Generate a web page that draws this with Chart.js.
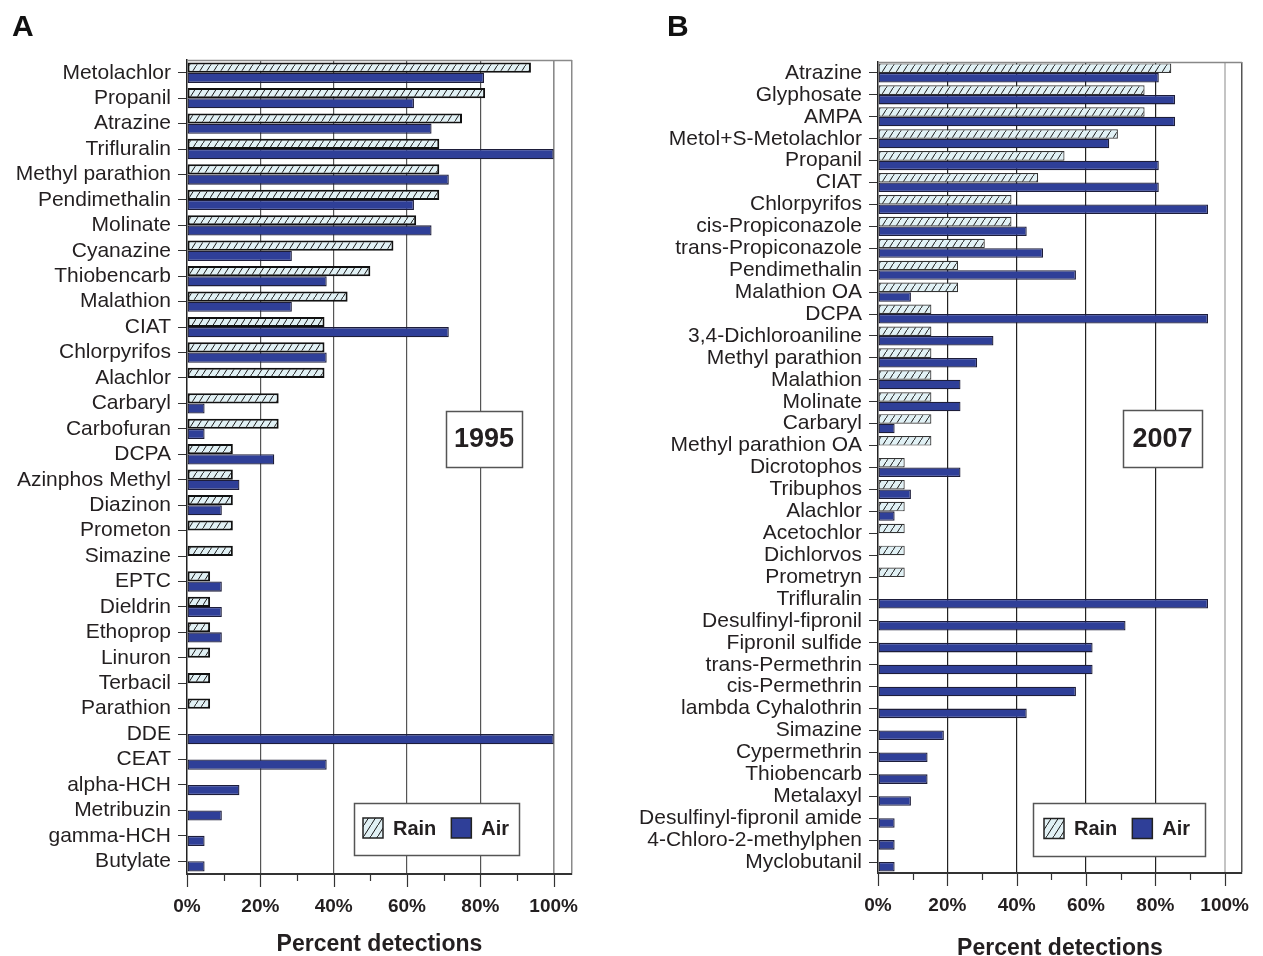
<!DOCTYPE html>
<html>
<head>
<meta charset="utf-8">
<script src="https://cdn.jsdelivr.net/npm/chart.js@4/dist/chart.umd.min.js"></script>
<style>
  html, body { margin: 0; padding: 0; background: #fff; }
  #wrap { position: relative; width: 1263px; height: 956px; overflow: hidden; }
  .panel { position: absolute; top: 0; }
  .letter { position: absolute; font: bold 30px "Liberation Sans", Arial, sans-serif; line-height: 30px; color: #111; }
</style>
</head>
<body>
<div id="wrap">
  <div class="panel" style="left:0;width:620px;height:956px"><canvas id="chartA" width="620" height="956"></canvas></div>
  <div class="panel" style="left:620px;width:643px;height:956px"><canvas id="chartB" width="643" height="956"></canvas></div>
  <div class="letter" style="left:12px;top:11px">A</div>
  <div class="letter" style="left:667px;top:11px">B</div>
</div>
<script>
// ---- 1995 detections (percent of samples) ----
const compounds1995 = [
  'Metolachlor', 'Propanil', 'Atrazine', 'Trifluralin', 'Methyl parathion', 'Pendimethalin',
  'Molinate', 'Cyanazine', 'Thiobencarb', 'Malathion', 'CIAT', 'Chlorpyrifos', 'Alachlor',
  'Carbaryl', 'Carbofuran', 'DCPA', 'Azinphos Methyl', 'Diazinon', 'Prometon', 'Simazine',
  'EPTC', 'Dieldrin', 'Ethoprop', 'Linuron', 'Terbacil', 'Parathion', 'DDE', 'CEAT',
  'alpha-HCH', 'Metribuzin', 'gamma-HCH', 'Butylate'
];
const rain1995 = [
  93.8, 81.3, 75.0, 68.8, 68.8, 68.8, 62.5, 56.3, 50.0, 43.8, 37.5, 37.5, 37.5,
  25.0, 25.0, 12.5, 12.5, 12.5, 12.5, 12.5, 6.3, 6.3, 6.3, 6.3, 6.3, 6.3,
  null, null, null, null, null, null
];
const air1995 = [
  81.0, 61.9, 66.7, 100, 71.4, 61.9, 66.7, 28.6, 38.1, 28.6, 71.4, 38.1, null,
  4.8, 4.8, 23.8, 14.3, 9.5, null, null, 9.5, 9.5, 9.5, null, null, null,
  100, 38.1, 14.3, 9.5, 4.8, 4.8
];

// ---- 2007 detections (percent of samples) ----
const compounds2007 = [
  'Atrazine', 'Glyphosate', 'AMPA', 'Metol+S-Metolachlor', 'Propanil', 'CIAT', 'Chlorpyrifos',
  'cis-Propiconazole', 'trans-Propiconazole', 'Pendimethalin', 'Malathion OA', 'DCPA',
  '3,4-Dichloroaniline', 'Methyl parathion', 'Malathion', 'Molinate', 'Carbaryl',
  'Methyl parathion OA', 'Dicrotophos', 'Tribuphos', 'Alachlor', 'Acetochlor', 'Dichlorvos',
  'Prometryn', 'Trifluralin', 'Desulfinyl-fipronil', 'Fipronil sulfide', 'trans-Permethrin',
  'cis-Permethrin', 'lambda Cyhalothrin', 'Simazine', 'Cypermethrin', 'Thiobencarb',
  'Metalaxyl', 'Desulfinyl-fipronil amide', '4-Chloro-2-methylphen', 'Myclobutanil'
];
const rain2007 = [
  84.6, 76.9, 76.9, 69.2, 53.8, 46.2, 38.5, 38.5, 30.8, 23.1, 23.1, 15.4,
  15.4, 15.4, 15.4, 15.4, 15.4, 15.4, 7.7, 7.7, 7.7, 7.7, 7.7, 7.7,
  null, null, null, null, null, null, null, null, null, null, null, null, null
];
const air2007 = [
  81.0, 85.7, 85.7, 66.7, 81.0, 81.0, 95.2, 42.9, 47.6, 57.1, 9.5, 95.2,
  33.3, 28.6, 23.8, 23.8, 4.8, null, 23.8, 9.5, 4.8, null, null, null,
  95.2, 71.4, 61.9, 61.9, 57.1, 42.9, 19.0, 14.3, 14.3, 9.5, 4.8, 4.8, 4.8
];

const percentTicks = [0, 20, 40, 60, 80, 100];
const seriesNames = ['Rain', 'Air'];

const FONT = '"Liberation Sans", Arial, sans-serif';
const INK = '#231f20';
const AIR_BLUE = '#2f3f98';
const RAIN_FILL = '#e1f1f5';

// diagonal hatch used for the rain bars
function makeHatch() {
  const w = 7, h = 11;
  const c = document.createElement('canvas');
  c.width = w; c.height = h;
  const g = c.getContext('2d');
  g.fillStyle = RAIN_FILL;
  g.fillRect(0, 0, w, h);
  g.strokeStyle = '#1a1a1a';
  g.lineWidth = 1;
  g.beginPath();
  g.moveTo(-1, h + h / w);
  g.lineTo(w + 1, -h / w);
  g.stroke();
  return g.createPattern(c, 'repeat');
}
const hatch = makeHatch();

// frame, minor/major ticks, year box and legend box
const panelDecor = {
  id: 'panelDecor',
  afterDraw(chart, args, opts) {
    const { ctx, chartArea: a } = chart;
    const x = chart.scales.x;
    ctx.save();
    // top frame line
    ctx.strokeStyle = opts.frameColor;
    ctx.lineWidth = 1.5;
    ctx.beginPath();
    ctx.moveTo(a.left, a.top + 0.5);
    ctx.lineTo(a.right, a.top + 0.5);
    ctx.stroke();
    // tick marks below the value axis
    ctx.strokeStyle = '#333';
    ctx.lineWidth = 1.2;
    x.ticks.forEach(t => {
      if (t.value > 100) return;
      const px = Math.round(x.getPixelForValue(t.value)) + 0.5;
      const len = t.value % 20 === 0 ? 13 : 7;
      ctx.beginPath();
      ctx.moveTo(px, a.bottom);
      ctx.lineTo(px, a.bottom + len);
      ctx.stroke();
    });
    // year box
    const yb = opts.yearBox;
    ctx.fillStyle = '#fff';
    ctx.fillRect(yb.x, yb.y, yb.w, yb.h);
    ctx.strokeStyle = '#555';
    ctx.lineWidth = 1.5;
    ctx.strokeRect(yb.x + 0.5, yb.y + 0.5, yb.w, yb.h);
    ctx.fillStyle = INK;
    ctx.font = 'bold 27px ' + FONT;
    ctx.textAlign = 'center';
    ctx.textBaseline = 'middle';
    ctx.fillText(opts.year, yb.x + yb.w / 2, yb.y + yb.h / 2 + 1);
    // legend
    const lb = opts.legendBox;
    ctx.fillStyle = '#fff';
    ctx.fillRect(lb.x, lb.y, lb.w, lb.h);
    ctx.strokeStyle = '#555';
    ctx.strokeRect(lb.x + 0.5, lb.y + 0.5, lb.w, lb.h);
    ctx.font = 'bold 20px ' + FONT;
    ctx.textAlign = 'left';
    let cx = lb.x + opts.legendPad;
    const cy = lb.y + lb.h / 2;
    chart.data.datasets.forEach(ds => {
      ctx.fillStyle = ds.backgroundColor;
      ctx.fillRect(cx, cy - 11, 20, 20);
      ctx.strokeStyle = '#222';
      ctx.lineWidth = 1.5;
      ctx.strokeRect(cx, cy - 11, 20, 20);
      ctx.fillStyle = INK;
      ctx.fillText(ds.label, cx + 30, cy);
      cx += 30 + ctx.measureText(ds.label).width + 15;
    });
    ctx.restore();
  }
};

function buildChart(id, labels, rain, air, cfg) {
  const barShape = { categoryPercentage: cfg.catPct, barPercentage: 1.0, borderSkipped: false };
  return new Chart(document.getElementById(id), {
    type: 'bar',
    data: {
      labels: labels,
      datasets: [
        Object.assign({ label: seriesNames[0], data: rain, backgroundColor: hatch,
          borderColor: cfg.rainBorder, borderWidth: cfg.rainBorderWidth }, barShape),
        Object.assign({ label: seriesNames[1], data: air, backgroundColor: AIR_BLUE,
          borderColor: '#1d1d3a', borderWidth: 1.3 }, barShape)
      ]
    },
    options: {
      indexAxis: 'y',
      responsive: false,
      devicePixelRatio: 1,
      animation: false,
      layout: { padding: cfg.padding },
      plugins: {
        legend: { display: false },
        tooltip: { enabled: false },
        panelDecor: cfg.decor
      },
      scales: {
        y: {
          afterFit(s) { s.width = cfg.yWidth; },
          grid: { offset: false, drawOnChartArea: false, drawTicks: true, tickLength: 9,
                  tickColor: '#333', tickWidth: 1 },
          border: { display: true, color: '#222', width: 1.5 },
          ticks: { color: INK, padding: 7, autoSkip: false, font: { family: FONT, size: 21 } }
        },
        x: {
          min: 0, max: 105,
          afterFit(s) { s.height = cfg.xHeight; },
          afterBuildTicks(s) {
            s.ticks = [0, 10, 20, 30, 40, 50, 60, 70, 80, 90, 100, 105].map(v => ({ value: v }));
          },
          grid: {
            drawTicks: false,
            color(c) {
              const v = c.tick && c.tick.value;
              if (v === 105) return cfg.frameColor;
              if (v === 100) return cfg.hundredColor;
              if (v > 0 && v % 20 === 0) return cfg.gridColor;
              return 'rgba(0,0,0,0)';
            },
            lineWidth(c) {
              const v = c.tick && c.tick.value;
              return v === 105 ? 1.5 : (v === 100 ? cfg.hundredWidth : 1.2);
            }
          },
          border: { display: true, color: '#333', width: 2 },
          ticks: {
            color: INK, padding: 21, autoSkip: false, maxRotation: 0,
            font: { family: FONT, size: 19, weight: 'bold' },
            callback(v) { return percentTicks.includes(v) ? v + '%' : ''; }
          },
          title: {
            display: true, text: 'Percent detections', color: INK,
            font: { family: FONT, size: 23, weight: 'bold', lineHeight: 1 },
            padding: { top: 0, bottom: cfg.titlePad }
          }
        }
      }
    },
    plugins: [panelDecor]
  });
}

buildChart('chartA', compounds1995, rain1995, air1995, {
  padding: { top: 60, right: 48, bottom: 0, left: 0 },
  yWidth: 187, xHeight: 82, catPct: 0.8,
  rainBorder: '#111', rainBorderWidth: 2,
  frameColor: '#8a8a8a', gridColor: '#555', hundredColor: '#8a8a8a', hundredWidth: 1.6,
  titlePad: 0,
  decor: {
    frameColor: '#8a8a8a', year: '1995',
    yearBox: { x: 446, y: 411, w: 76, h: 56 },
    legendBox: { x: 354, y: 803, w: 165, h: 52 }, legendPad: 9
  }
});

buildChart('chartB', compounds2007, rain2007, air2007, {
  padding: { top: 62, right: 12, bottom: 0, left: 0 },
  yWidth: 258, xHeight: 83, catPct: 0.87,
  rainBorder: '#333', rainBorderWidth: 1.2,
  frameColor: '#555', gridColor: '#222', hundredColor: '#c4c4c4', hundredWidth: 2,
  titlePad: -4,
  decor: {
    frameColor: '#888', year: '2007',
    yearBox: { x: 1123 - 620, y: 410, w: 79, h: 57 },
    legendBox: { x: 1033 - 620, y: 803, w: 172, h: 53 }, legendPad: 11
  }
});
</script>
</body>
</html>
